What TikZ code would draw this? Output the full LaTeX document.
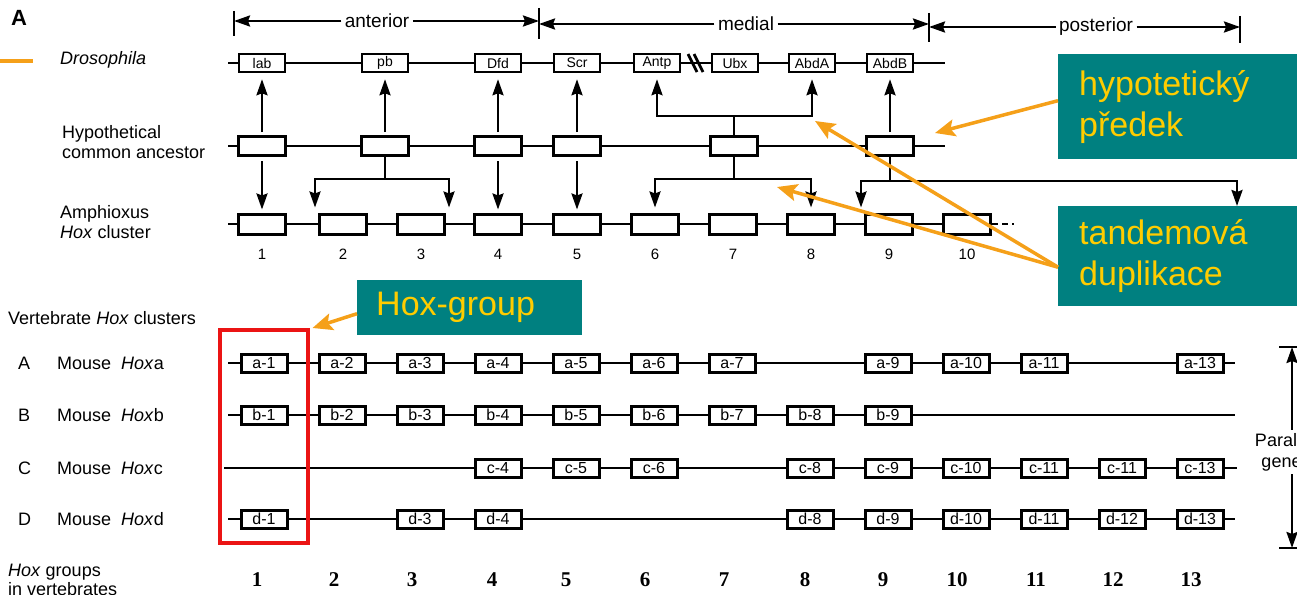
\documentclass[tikz,border=0pt]{standalone}
\usepackage{fontspec}
\setmainfont{Liberation Sans}
\newfontfamily\numfont{Liberation Serif}
\usepackage{tikz}
\usetikzlibrary{positioning,arrows.meta}
\definecolor{hoxteal}{RGB}{0,128,128}
\definecolor{hoxyellow}{RGB}{255,204,0}
\definecolor{hoxorange}{RGB}{245,160,25}
\definecolor{hoxred}{RGB}{235,20,20}
\newcommand{\fsz}[2]{\fontsize{#1}{#2}\selectfont}

\begin{document}
\begin{tikzpicture}[x=1pt,y=-1pt,
  gene/.style={draw,line width=2.5pt,fill=white,minimum width=46pt,minimum height=18pt,inner sep=0pt,font=\fsz{14}{14}},
  anc/.style={gene,line width=3pt,minimum width=47pt,minimum height=19pt},
  vgene/.style={gene,line width=3pt,font=\fsz{16}{16}},
  wire/.style={line width=2.4pt},
  arr/.style={line width=2.4pt,-{Stealth[length=16pt,width=11pt,inset=2pt]}},
  up/.style={arr,shorten <=3pt,shorten >=6pt},
  down/.style={arr,shorten <=4pt,shorten >=3pt},
  split/.style={arr,shorten >=5pt},
  region/.style={font=\fsz{19}{19}},
  lbl/.style={anchor=west,inner sep=0pt,align=left,font=\fsz{18}{20}},
  note/.style={fill=hoxteal,text=hoxyellow,font=\fsz{34}{41},align=left,anchor=north west,inner xsep=21pt},
  pointer/.style={hoxorange,line width=3.5pt,-{Stealth[length=20pt,width=17pt,inset=4pt]}}]
\useasboundingbox (0,0) rectangle (1297,594);

\node[font=\bfseries\fsz{22}{22}] (panel) at (19,18) {A};
\coordinate (a0) at (234,21); \coordinate (a1) at (539,21);
\coordinate (m0) at (539,24); \coordinate (m1) at (929,24);
\coordinate (p0) at (929,27); \coordinate (p1) at (1240,27);
\draw[wire] (234,11) -- (234,36) (539,8) -- (539,39) (929,13) -- (929,42) (1240,16) -- (1240,43);
\node[region] (ant) at (377,21) {anterior};
\node[region] (med) at (746,24) {medial};
\node[region] (post) at (1096,27) {posterior};
\draw[arr] (ant) -- (a0); \draw[arr] (ant) -- (a1);
\draw[arr] (med) -- (m0); \draw[arr] (med) -- (m1);
\draw[arr] (post) -- (p0); \draw[arr] (post) -- (p1);

\draw[hoxorange,line width=4pt] (0,61) -- (33,61);
\node[lbl] (dros) at (60,60) {\itshape Drosophila};
\node[lbl] (hypo) at (62,142) {Hypothetical\\common ancestor};
\node[lbl] (amph) at (60,222) {Amphioxus\\\textit{Hox} cluster};

\draw[wire] (228,63) -- (945,63);
\node[gene] (lab) at (262,63) {lab};
\node[gene] (pb) at (385,63) {pb};
\node[gene] (Dfd) at (498,63) {Dfd};
\node[gene] (Scr) at (577,63) {Scr};
\node[gene] (Antp) at (657,63) {Antp};
\node[gene] (Ubx) at (735,63) {Ubx};
\node[gene] (AbdA) at (812,63) {AbdA};
\node[gene] (AbdB) at (890,63) {AbdB};
\draw[line width=2.8pt] (688,54) -- (697,72) (694,54) -- (703,72);

\draw[wire] (228,146) -- (945,146);
\node[anc] (anc1) at (262,146) {};
\node[anc] (anc2) at (385,146) {};
\node[anc] (anc4) at (498,146) {};
\node[anc] (anc5) at (577,146) {};
\node[anc] (anc7) at (734,146) {};
\node[anc] (anc9) at (890,146) {};

\draw[wire] (228,224) -- (967,224);
\foreach \x [count=\i] in {262,343,421,498,577,655,733,811,889,967} {
  \node[anc,minimum height=20pt] (am\i) at (\x,224) {};
  \node[below=10pt of am\i,font=\fsz{15}{15}] (n\i) {\i};
}
\draw[wire,dash pattern=on 6pt off 4pt] (am10.east) -- ++(22,0);

\draw[up] (anc1) -- (lab);
\draw[down] (anc1) -- (am1);
\draw[up] (anc2) -- (pb);
\draw[wire] (anc2.south) -- ++(0,22) coordinate (j2);
\draw[split] (j2) -| ([xshift=-3pt]am2.north west);
\draw[split] (j2) -| ([xshift=3pt]am3.north east);
\draw[up] (anc4) -- (Dfd);
\draw[down] (anc4) -- (am4);
\draw[up] (anc5) -- (Scr);
\draw[down] (anc5) -- (am5);
\draw[wire] (anc7.north) -- ++(0,-19) coordinate (u7);
\draw[arr,shorten >=6pt] (u7) -| (Antp);
\draw[arr,shorten >=6pt] (u7) -| (AbdA);
\draw[wire] (anc7.south) -- ++(0,22) coordinate (j7);
\draw[split] (j7) -| (am6);
\draw[split] (j7) -| (am8);
\draw[up] (anc9) -- (AbdB);
\draw[wire] (anc9.south) -- ++(0,24) coordinate (j9);
\draw[split] (j9) -| ([xshift=-3pt]am9.north west);
\coordinate (far) at (1237,206);
\draw[arr] (j9) -| (far);

\node[lbl] (vert) at (8,318) {Vertebrate \textit{Hox} clusters};
\node[lbl] (rA) at (18,363) {A};
\node[lbl] (mA) at (57,363) {Mouse \ \textit{Hox}a};
\node[lbl] (rB) at (18,415) {B};
\node[lbl] (mB) at (57,415) {Mouse \ \textit{Hox}b};
\node[lbl] (rC) at (18,468) {C};
\node[lbl] (mC) at (57,468) {Mouse \ \textit{Hox}c};
\node[lbl] (rD) at (18,519) {D};
\node[lbl] (mD) at (57,519) {Mouse \ \textit{Hox}d};

\draw[wire] (228,363) -- (1235,363);
\draw[wire] (228,415) -- (1235,415);
\draw[wire] (224,468) -- (1237,468);
\draw[wire] (228,519) -- (1235,519);
\foreach \c in {1,2,3,4,5,6,7,9,10,11,13}
  \node[vgene] (a\c) at ({186+78*\c},363) {a-\c};
\foreach \c in {1,...,9}
  \node[vgene] (b\c) at ({186+78*\c},415) {b-\c};
\foreach \c/\t in {4/4,5/5,6/6,8/8,9/9,10/10,11/11,12/11,13/13}
  \node[vgene] (c\c) at ({186+78*\c},468) {c-\t};
\foreach \c in {1,3,4,8,9,10,11,12,13}
  \node[vgene] (d\c) at ({186+78*\c},519) {d-\c};

\node[lbl,font=\fsz{18}{19}] (hgrp) at (8,580) {\textit{Hox} groups\\in vertebrates};
\foreach \c/\x in {1/257,2/334,3/412,4/492,5/566,6/645,7/724,8/805,9/883,10/957,11/1036,12/1113,13/1191}
  \node[font=\numfont\bfseries\fsz{21}{21}] (g\c) at (\x,580) {\c};

\node[font=\fsz{18}{21},align=center] (para) at (1286,452) {Paralog\\genes};
\coordinate (ptop) at (1292,347); \coordinate (pbot) at (1292,548);
\draw[wire] (1279,347) -- (1297,347) (1279,548) -- (1297,548);
\draw[arr] (para.north -| ptop) -- (ptop);
\draw[arr] (para.south -| pbot) -- (pbot);

\node[draw=hoxred,line width=3.5pt,minimum width=88pt,minimum height=213pt,anchor=north west] (grp1) at (218,328) {};

\node[note,text width=197pt,minimum height=105pt] (nhyp) at (1058,54) {hypotetický\\předek};
\node[note,text width=197pt,minimum height=100pt] (ntan) at (1058,206) {tandemová\\duplikace};
\node[note,text width=187pt,inner xsep=19pt,minimum height=55pt] (ngrp) at (357,280) {Hox-group};

\coordinate (tipA) at (935,133);
\coordinate (tipB) at (815,121);
\coordinate (tipC) at (777,187);
\draw[pointer] ([yshift=6pt]nhyp.west) -- (tipA);
\draw[pointer] ([yshift=-11pt]ntan.west) -- (tipB);
\draw[pointer] ([yshift=-11pt]ntan.west) -- (tipC);
\draw[pointer] ([yshift=-6pt]ngrp.west) -- ([xshift=3pt]grp1.north east);
\end{tikzpicture}
\end{document}
